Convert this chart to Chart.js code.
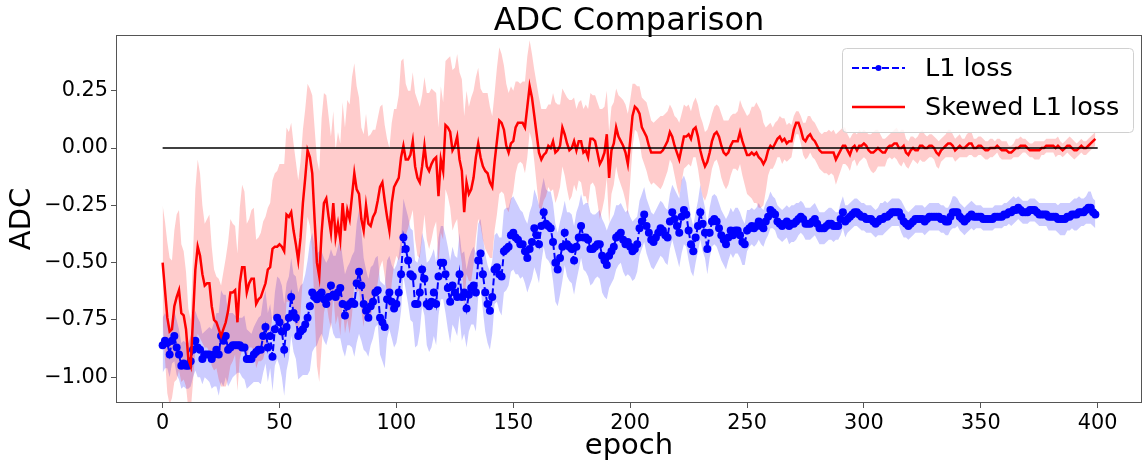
<!DOCTYPE html>
<html>
<head>
<meta charset="utf-8">
<title>ADC Comparison</title>
<script src="https://cdn.jsdelivr.net/npm/chart.js@4.4.1/dist/chart.umd.min.js"></script>
<style>
  html, body { margin: 0; padding: 0; background: #fff; }
  canvas { display: block; }
</style>
</head>
<body>
<canvas id="adcChart" width="1143" height="463"></canvas>
<script>
// ── DATA ──
const epochs = Array.from({ length: 400 }, (_, i) => i);
const xTicks = [0, 50, 100, 150, 200, 250, 300, 350, 400];
const yTicks = [-1.00, -0.75, -0.50, -0.25, 0.00, 0.25];

// L1 loss: mean ADC per epoch and its spread
const l1Mean = [
  -0.86,-0.84,-0.85,-0.90,-0.84,-0.82,-0.87,-0.90,-0.95,-0.94,
  -0.95,-0.95,-0.93,-0.88,-0.84,-0.87,-0.88,-0.92,-0.90,-0.90,
  -0.90,-0.92,-0.90,-0.88,-0.90,-0.82,-0.84,-0.82,-0.88,-0.87,
  -0.86,-0.86,-0.86,-0.86,-0.87,-0.87,-0.92,-0.92,-0.92,-0.90,
  -0.89,-0.88,-0.88,-0.82,-0.78,-0.87,-0.82,-0.91,-0.79,-0.74,
  -0.76,-0.80,-0.88,-0.78,-0.74,-0.65,-0.72,-0.74,-0.82,-0.80,
  -0.79,-0.77,-0.74,-0.69,-0.63,-0.65,-0.66,-0.64,-0.63,-0.66,
  -0.68,-0.65,-0.60,-0.64,-0.65,-0.63,-0.61,-0.68,-0.73,-0.69,
  -0.68,-0.67,-0.68,-0.59,-0.54,-0.60,-0.68,-0.71,-0.74,-0.69,
  -0.67,-0.63,-0.62,-0.74,-0.76,-0.78,-0.66,-0.63,-0.67,-0.70,
  -0.68,-0.63,-0.55,-0.39,-0.44,-0.49,-0.55,-0.56,-0.68,-0.68,
  -0.63,-0.53,-0.57,-0.68,-0.69,-0.67,-0.63,-0.68,-0.56,-0.50,
  -0.50,-0.55,-0.61,-0.67,-0.60,-0.63,-0.65,-0.55,-0.65,-0.63,
  -0.70,-0.64,-0.61,-0.60,-0.63,-0.49,-0.46,-0.55,-0.63,-0.68,
  -0.71,-0.65,-0.53,-0.52,-0.55,-0.56,-0.45,-0.44,-0.43,-0.38,
  -0.37,-0.39,-0.40,-0.42,-0.42,-0.45,-0.48,-0.44,-0.41,-0.35,
  -0.38,-0.42,-0.34,-0.28,-0.33,-0.34,-0.35,-0.41,-0.50,-0.53,
  -0.48,-0.43,-0.37,-0.42,-0.43,-0.44,-0.49,-0.43,-0.39,-0.34,
  -0.39,-0.39,-0.40,-0.44,-0.44,-0.43,-0.42,-0.42,-0.47,-0.49,
  -0.51,-0.47,-0.45,-0.43,-0.39,-0.38,-0.37,-0.40,-0.42,-0.41,
  -0.43,-0.45,-0.44,-0.42,-0.35,-0.32,-0.29,-0.34,-0.37,-0.40,
  -0.41,-0.39,-0.37,-0.35,-0.36,-0.38,-0.39,-0.32,-0.28,-0.31,
  -0.34,-0.37,-0.30,-0.27,-0.29,-0.36,-0.42,-0.45,-0.39,-0.34,
  -0.28,-0.33,-0.37,-0.44,-0.37,-0.32,-0.31,-0.32,-0.35,-0.38,
  -0.40,-0.42,-0.39,-0.36,-0.38,-0.36,-0.36,-0.38,-0.41,-0.42,
  -0.36,-0.35,-0.34,-0.35,-0.34,-0.32,-0.34,-0.35,-0.32,-0.30,
  -0.27,-0.28,-0.29,-0.32,-0.33,-0.34,-0.33,-0.32,-0.34,-0.33,
  -0.33,-0.32,-0.31,-0.30,-0.31,-0.33,-0.33,-0.33,-0.32,-0.31,
  -0.33,-0.35,-0.35,-0.35,-0.34,-0.33,-0.33,-0.34,-0.34,-0.34,
  -0.31,-0.28,-0.32,-0.31,-0.30,-0.29,-0.28,-0.28,-0.29,-0.30,
  -0.30,-0.31,-0.31,-0.31,-0.32,-0.33,-0.32,-0.31,-0.31,-0.30,
  -0.30,-0.29,-0.28,-0.28,-0.28,-0.28,-0.30,-0.32,-0.33,-0.34,
  -0.33,-0.32,-0.31,-0.31,-0.31,-0.31,-0.32,-0.31,-0.30,-0.30,
  -0.30,-0.30,-0.30,-0.31,-0.31,-0.32,-0.32,-0.30,-0.28,-0.28,
  -0.28,-0.30,-0.31,-0.32,-0.31,-0.30,-0.29,-0.30,-0.30,-0.30,
  -0.30,-0.31,-0.31,-0.31,-0.31,-0.31,-0.30,-0.30,-0.30,-0.30,
  -0.29,-0.29,-0.28,-0.28,-0.27,-0.27,-0.26,-0.27,-0.28,-0.28,
  -0.28,-0.27,-0.27,-0.27,-0.28,-0.29,-0.29,-0.29,-0.29,-0.30,
  -0.30,-0.30,-0.30,-0.31,-0.31,-0.31,-0.31,-0.30,-0.30,-0.29,
  -0.29,-0.29,-0.28,-0.28,-0.28,-0.27,-0.26,-0.26,-0.28,-0.29
];
const l1Std = [
  0.12,0.12,0.11,0.10,0.10,0.11,0.12,0.11,0.10,0.10,
  0.10,0.10,0.11,0.12,0.13,0.13,0.12,0.11,0.10,0.11,
  0.12,0.13,0.14,0.16,0.18,0.20,0.20,0.18,0.16,0.15,
  0.14,0.13,0.12,0.12,0.13,0.14,0.13,0.12,0.11,0.12,
  0.13,0.14,0.15,0.16,0.16,0.15,0.14,0.15,0.16,0.18,
  0.19,0.20,0.20,0.19,0.18,0.17,0.17,0.18,0.19,0.20,
  0.20,0.22,0.25,0.28,0.26,0.22,0.20,0.19,0.18,0.18,
  0.18,0.17,0.16,0.17,0.18,0.20,0.22,0.20,0.18,0.17,
  0.18,0.20,0.23,0.26,0.27,0.24,0.20,0.18,0.17,0.17,
  0.16,0.15,0.15,0.16,0.17,0.18,0.17,0.16,0.16,0.17,
  0.17,0.16,0.16,0.17,0.18,0.19,0.20,0.20,0.19,0.18,
  0.17,0.16,0.16,0.18,0.20,0.20,0.19,0.18,0.17,0.16,
  0.16,0.17,0.18,0.18,0.17,0.16,0.17,0.18,0.19,0.18,
  0.17,0.16,0.16,0.17,0.17,0.16,0.15,0.16,0.17,0.17,
  0.17,0.16,0.15,0.15,0.16,0.17,0.18,0.18,0.17,0.16,
  0.16,0.16,0.15,0.15,0.14,0.14,0.15,0.16,0.16,0.17,
  0.17,0.17,0.16,0.15,0.15,0.15,0.16,0.17,0.17,0.16,
  0.16,0.15,0.14,0.14,0.15,0.15,0.15,0.15,0.14,0.14,
  0.14,0.15,0.16,0.16,0.15,0.14,0.14,0.15,0.16,0.16,
  0.15,0.14,0.14,0.14,0.14,0.13,0.13,0.14,0.14,0.14,
  0.13,0.13,0.13,0.12,0.12,0.12,0.12,0.12,0.12,0.12,
  0.12,0.12,0.12,0.12,0.12,0.12,0.12,0.12,0.12,0.13,
  0.14,0.15,0.16,0.15,0.14,0.13,0.12,0.11,0.11,0.11,
  0.12,0.12,0.11,0.11,0.11,0.11,0.11,0.11,0.11,0.11,
  0.11,0.11,0.10,0.10,0.10,0.10,0.10,0.10,0.10,0.09,
  0.09,0.08,0.08,0.08,0.08,0.08,0.08,0.08,0.08,0.08,
  0.08,0.07,0.07,0.07,0.07,0.07,0.07,0.07,0.08,0.08,
  0.08,0.08,0.07,0.07,0.07,0.07,0.07,0.07,0.07,0.07,
  0.07,0.07,0.07,0.07,0.07,0.07,0.07,0.07,0.06,0.06,
  0.07,0.07,0.07,0.06,0.06,0.06,0.06,0.06,0.06,0.06,
  0.06,0.06,0.06,0.06,0.06,0.06,0.06,0.07,0.07,0.07,
  0.06,0.06,0.06,0.06,0.06,0.06,0.07,0.07,0.06,0.06,
  0.06,0.06,0.06,0.06,0.06,0.06,0.06,0.06,0.06,0.06,
  0.06,0.06,0.06,0.06,0.06,0.06,0.06,0.06,0.07,0.07,
  0.06,0.06,0.06,0.06,0.06,0.06,0.06,0.06,0.05,0.05,
  0.05,0.05,0.05,0.05,0.05,0.05,0.05,0.05,0.05,0.05,
  0.05,0.05,0.05,0.06,0.06,0.05,0.05,0.05,0.05,0.05,
  0.05,0.05,0.05,0.05,0.05,0.05,0.05,0.05,0.05,0.06,
  0.06,0.06,0.06,0.06,0.07,0.07,0.07,0.06,0.06,0.06,
  0.07,0.07,0.07,0.06,0.06,0.06,0.07,0.07,0.06,0.06
];

// Skewed L1 loss: mean ADC per epoch and its spread
const skewMean = [
  -0.50,-0.62,-0.74,-0.80,-0.79,-0.69,-0.65,-0.62,-0.72,-0.73,
  -0.79,-0.92,-0.95,-0.74,-0.53,-0.43,-0.47,-0.55,-0.60,-0.59,
  -0.59,-0.69,-0.75,-0.76,-0.79,-0.82,-0.79,-0.76,-0.71,-0.63,
  -0.63,-0.62,-0.76,-0.59,-0.52,-0.52,-0.63,-0.59,-0.57,-0.57,
  -0.68,-0.66,-0.65,-0.62,-0.59,-0.53,-0.52,-0.44,-0.43,-0.43,
  -0.42,-0.43,-0.45,-0.29,-0.30,-0.28,-0.36,-0.42,-0.49,-0.39,
  -0.24,-0.13,-0.01,-0.04,-0.11,-0.31,-0.50,-0.56,-0.37,-0.24,
  -0.22,-0.30,-0.37,-0.24,-0.39,-0.33,-0.40,-0.24,-0.36,-0.27,
  -0.31,-0.21,-0.11,-0.18,-0.20,-0.31,-0.36,-0.25,-0.33,-0.34,
  -0.30,-0.28,-0.23,-0.17,-0.15,-0.23,-0.30,-0.36,-0.24,-0.17,
  -0.15,-0.13,-0.04, 0.01,-0.05,-0.05,-0.03, 0.03,-0.08,-0.13,
  -0.15,-0.08, 0.01,-0.08,-0.10,-0.07,-0.05,-0.04,-0.21,-0.05,
  -0.10, 0.10, 0.09, 0.07,-0.01, 0.01, 0.05,-0.05,-0.10,-0.28,
  -0.15,-0.20,-0.18,-0.13,-0.04, 0.02,-0.04,-0.08,-0.10,-0.11,
  -0.15,-0.17,-0.06, 0.03, 0.12, 0.11, 0.08, 0.01,-0.02, 0.02,
   0.03, 0.09, 0.11, 0.11, 0.11, 0.09, 0.18, 0.27, 0.22, 0.14,
   0.06,-0.02,-0.05,-0.03,-0.02, 0.01, 0.00, 0.03,-0.02,-0.01,
   0.01, 0.09, 0.06, 0.02,-0.01, 0.00, 0.03,-0.01, 0.03, 0.03,
  -0.02,-0.01,-0.04, 0.04, 0.04, 0.03,-0.02,-0.07,-0.05,-0.02,
   0.06,-0.13,-0.01, 0.02, 0.09, 0.05, 0.03, 0.01,-0.02,-0.07,
   0.03, 0.14, 0.18, 0.17, 0.15, 0.09, 0.07, 0.05, 0.01,-0.02,
  -0.02,-0.02,-0.02,-0.02,-0.01, 0.01, 0.03, 0.07, 0.05, 0.01,
  -0.02,-0.05, 0.00, 0.05, 0.05, 0.06, 0.04, 0.08, 0.09, 0.05,
  -0.01,-0.05,-0.08,-0.06,-0.02, 0.03, 0.06, 0.07, 0.05, 0.01,
  -0.02,-0.03,-0.02, 0.01, 0.03, 0.03, 0.03, 0.07, 0.03, 0.00,
  -0.03,-0.03,-0.02,-0.03,-0.02,-0.04,-0.05,-0.07,-0.05,-0.01,
   0.01, 0.00, 0.02, 0.04, 0.05, 0.03, 0.04, 0.02, 0.03, 0.03,
   0.08, 0.11, 0.11, 0.08, 0.04, 0.03, 0.05, 0.06, 0.04, 0.03,
   0.01,-0.01,-0.02,-0.02,-0.02,-0.02,-0.02,-0.02,-0.05,-0.03,
  -0.01, 0.01, 0.01,-0.01,-0.03, 0.00, 0.01,-0.01, 0.01, 0.01,
   0.02, 0.01,-0.01,-0.02,-0.02,-0.01, 0.00,-0.01,-0.02,-0.02,
   0.00, 0.01, 0.01, 0.02, 0.02, 0.00, 0.00, 0.01,-0.02,-0.03,
  -0.01, 0.00,-0.01,-0.01, 0.01, 0.01, 0.00, 0.00, 0.01, 0.01,
   0.00,-0.02,-0.03,-0.01, 0.00, 0.01, 0.02, 0.02, 0.01,-0.01,
   0.00, 0.01, 0.00, 0.00, 0.01, 0.02, 0.02, 0.00, 0.00, 0.01,
   0.01, 0.00,-0.01,-0.01, 0.00, 0.00, 0.00, 0.01, 0.00,-0.01,
  -0.01,-0.01,-0.02,-0.02,-0.01, 0.00, 0.00, 0.01, 0.01, 0.01,
   0.00,-0.01,-0.01,-0.01,-0.01,-0.01, 0.00, 0.00, 0.01, 0.01,
   0.01, 0.01, 0.00, 0.01, 0.00,-0.01, 0.00, 0.01, 0.01, 0.00,
  -0.01,-0.01, 0.00, 0.01, 0.00, 0.00, 0.01, 0.02, 0.03, 0.04
];
const skewStd = [
  0.25,0.30,0.33,0.32,0.30,0.33,0.36,0.35,0.30,0.28,
  0.25,0.22,0.20,0.28,0.35,0.38,0.36,0.30,0.27,0.28,
  0.30,0.26,0.22,0.20,0.22,0.22,0.25,0.28,0.30,0.32,
  0.30,0.28,0.30,0.33,0.36,0.33,0.30,0.28,0.30,0.31,
  0.28,0.27,0.28,0.30,0.29,0.27,0.28,0.30,0.32,0.33,
  0.35,0.36,0.38,0.38,0.37,0.39,0.38,0.36,0.35,0.33,
  0.32,0.30,0.29,0.30,0.34,0.40,0.45,0.46,0.50,0.48,
  0.45,0.44,0.42,0.40,0.38,0.40,0.42,0.44,0.45,0.48,
  0.50,0.52,0.48,0.45,0.42,0.40,0.42,0.40,0.38,0.40,
  0.38,0.36,0.36,0.35,0.34,0.33,0.34,0.36,0.35,0.34,
  0.32,0.36,0.42,0.38,0.33,0.30,0.28,0.30,0.32,0.34,
  0.33,0.31,0.30,0.32,0.34,0.33,0.30,0.28,0.30,0.32,
  0.30,0.28,0.30,0.33,0.35,0.34,0.36,0.38,0.40,0.42,
  0.40,0.38,0.40,0.38,0.35,0.33,0.30,0.32,0.34,0.35,
  0.33,0.31,0.30,0.32,0.32,0.30,0.28,0.27,0.26,0.25,
  0.22,0.20,0.18,0.17,0.18,0.20,0.22,0.20,0.19,0.20,
  0.22,0.24,0.22,0.20,0.19,0.18,0.19,0.21,0.22,0.20,
  0.18,0.17,0.18,0.20,0.22,0.21,0.19,0.18,0.17,0.18,
  0.19,0.20,0.21,0.20,0.19,0.20,0.22,0.24,0.22,0.20,
  0.19,0.20,0.19,0.18,0.17,0.18,0.19,0.20,0.21,0.22,
  0.18,0.14,0.10,0.10,0.12,0.13,0.14,0.15,0.15,0.14,
  0.13,0.14,0.15,0.16,0.15,0.14,0.13,0.12,0.12,0.13,
  0.15,0.16,0.15,0.14,0.13,0.13,0.12,0.12,0.13,0.14,
  0.15,0.16,0.15,0.14,0.13,0.12,0.12,0.12,0.13,0.14,
  0.14,0.15,0.14,0.13,0.12,0.12,0.13,0.14,0.15,0.16,
  0.17,0.18,0.20,0.21,0.22,0.22,0.21,0.18,0.14,0.11,
  0.10,0.09,0.09,0.08,0.09,0.10,0.09,0.08,0.08,0.07,
  0.06,0.05,0.05,0.06,0.07,0.08,0.09,0.08,0.08,0.08,
  0.08,0.08,0.08,0.09,0.09,0.10,0.09,0.10,0.11,0.10,
  0.09,0.08,0.08,0.07,0.07,0.06,0.06,0.07,0.07,0.06,
  0.06,0.06,0.07,0.08,0.09,0.09,0.08,0.07,0.06,0.06,
  0.05,0.05,0.06,0.06,0.07,0.07,0.08,0.07,0.06,0.06,
  0.06,0.05,0.05,0.06,0.06,0.07,0.06,0.05,0.05,0.05,
  0.05,0.06,0.06,0.05,0.05,0.05,0.06,0.06,0.05,0.05,
  0.05,0.05,0.04,0.04,0.05,0.05,0.05,0.04,0.04,0.04,
  0.04,0.04,0.04,0.04,0.04,0.04,0.03,0.03,0.04,0.04,
  0.04,0.04,0.03,0.03,0.03,0.04,0.04,0.04,0.03,0.03,
  0.03,0.03,0.03,0.04,0.04,0.04,0.03,0.03,0.03,0.03,
  0.03,0.03,0.04,0.04,0.03,0.03,0.03,0.03,0.04,0.04,
  0.04,0.03,0.03,0.03,0.03,0.03,0.03,0.03,0.03,0.03
];

// reference line at ADC = 0
const zeroLineX = [0, 400];
const zeroLineY = [0, 0];

// ── HELPERS ──
const FONT = "'DejaVu Sans', 'Liberation Sans', sans-serif";
const SPINE = '#555';
const toPoints = (ys) => epochs.map((x, i) => ({ x, y: ys[i] }));
const toBand = (mean, sd, sign) => epochs.map((x, i) => ({ x, y: mean[i] + sign * sd[i] }));
const fmtY = (v) => (v < 0 ? '\u2212' : '') + Math.abs(v).toFixed(2);
const noPad = (s) => { s.paddingLeft = 0; s.paddingRight = 0; s.paddingTop = 0; s.paddingBottom = 0; };

// frame on all four sides like matplotlib spines, title centred over the axes
const framePlugin = {
    id: 'frame',
    afterDatasetsDraw(chart) {
        const { ctx, chartArea: a } = chart;
        ctx.save();
        ctx.strokeStyle = SPINE;
        ctx.lineWidth = 1;
        ctx.strokeRect(a.left + 0.5, a.top + 0.5, a.right - a.left - 1, a.bottom - a.top - 1);
        ctx.fillStyle = '#000';
        ctx.font = '32px ' + FONT;
        ctx.textAlign = 'center';
        ctx.textBaseline = 'alphabetic';
        ctx.fillText('ADC Comparison', (a.left + a.right) / 2, 30);
        ctx.restore();
    }
};

// legend box in the upper right of the plot
const boxLegendPlugin = {
    id: 'boxLegend',
    afterDraw(chart) {
        const { ctx } = chart;
        const l1 = chart.data.datasets[4];
        const sk = chart.data.datasets[5];
        const x = 842, y = 48, w = 291, h = 84, r = 4;
        ctx.save();
        ctx.beginPath();
        ctx.roundRect(x + 0.5, y + 0.5, w, h, r);
        ctx.fillStyle = 'rgba(255,255,255,0.8)';
        ctx.fill();
        ctx.strokeStyle = '#d0d0d0';
        ctx.lineWidth = 1;
        ctx.stroke();

        // L1 loss row
        ctx.strokeStyle = l1.borderColor;
        ctx.lineWidth = 2;
        ctx.setLineDash([7, 3]);
        ctx.beginPath();
        ctx.moveTo(852, 68);
        ctx.lineTo(905, 68);
        ctx.stroke();
        ctx.setLineDash([]);
        ctx.fillStyle = l1.borderColor;
        ctx.beginPath();
        ctx.arc(878.5, 68, 3, 0, Math.PI * 2);
        ctx.fill();

        // Skewed row
        ctx.strokeStyle = sk.borderColor;
        ctx.lineWidth = 2.5;
        ctx.beginPath();
        ctx.moveTo(852, 107);
        ctx.lineTo(905, 107);
        ctx.stroke();

        ctx.fillStyle = '#000';
        ctx.font = '25.5px ' + FONT;
        ctx.textBaseline = 'middle';
        ctx.fillText(l1.label, 925, 69);
        ctx.fillText(sk.label, 925, 108);
        ctx.restore();
    }
};

// ── ADC COMPARISON CHART ──
const ctx = document.getElementById('adcChart');
new Chart(ctx, {
    type: 'line',
    data: {
        datasets: [
            { label: 'l1-low', data: toBand(l1Mean, l1Std, -1), borderWidth: 0, pointRadius: 0, fill: false, order: 10 },
            { label: 'l1-high', data: toBand(l1Mean, l1Std, 1), borderWidth: 0, pointRadius: 0,
              fill: '-1', backgroundColor: 'rgba(0, 0, 255, 0.2)', order: 9 },
            { label: 'skew-low', data: toBand(skewMean, skewStd, -1), borderWidth: 0, pointRadius: 0, fill: false, order: 8 },
            { label: 'skew-high', data: toBand(skewMean, skewStd, 1), borderWidth: 0, pointRadius: 0,
              fill: '-1', backgroundColor: 'rgba(255, 0, 0, 0.2)', order: 7 },
            {
                label: 'L1 loss',
                data: toPoints(l1Mean),
                borderColor: '#0000ff',
                backgroundColor: '#0000ff',
                borderWidth: 2,
                borderDash: [7, 3],
                pointRadius: 4,
                pointBorderWidth: 0,
                pointBackgroundColor: '#0000ff',
                fill: false,
                order: 3
            },
            {
                label: 'Skewed L1 loss',
                data: toPoints(skewMean),
                borderColor: '#ff0000',
                borderWidth: 2.5,
                pointRadius: 0,
                fill: false,
                order: 2
            },
            {
                label: 'zero',
                data: zeroLineX.map((x, i) => ({ x, y: zeroLineY[i] })),
                borderColor: '#000',
                borderWidth: 1.5,
                pointRadius: 0,
                fill: false,
                order: 1
            }
        ]
    },
    options: {
        responsive: false,
        animation: false,
        devicePixelRatio: 1,
        events: [],
        elements: { line: { tension: 0 } },
        layout: { autoPadding: false, padding: { top: 35, right: 1, left: 0, bottom: 0 } },
        plugins: {
            legend: { display: false },
            tooltip: { enabled: false },
            title: { display: false }
        },
        scales: {
            x: {
                type: 'linear',
                min: -19.95,
                max: 418.95,
                afterBuildTicks: (s) => { s.ticks = xTicks.map(v => ({ value: v })); },
                afterFit: (s) => { s.height = 60; noPad(s); },
                ticks: {
                    color: '#000',
                    padding: 3,
                    maxRotation: 0,
                    autoSkip: false,
                    font: { family: FONT, size: 20.8 }
                },
                grid: { drawOnChartArea: false, drawTicks: true, tickLength: 5, color: SPINE },
                border: { display: false },
                title: {
                    display: true,
                    text: 'epoch',
                    color: '#000',
                    font: { family: FONT, size: 29 },
                    padding: { top: 0, bottom: -1 }
                }
            },
            y: {
                type: 'linear',
                min: -1.112,
                max: 0.493,
                afterBuildTicks: (s) => { s.ticks = yTicks.map(v => ({ value: v })); },
                afterFit: (s) => { s.width = 116; noPad(s); },
                ticks: {
                    color: '#000',
                    padding: 3,
                    callback: (v) => fmtY(v),
                    font: { family: FONT, size: 20.8 }
                },
                grid: { drawOnChartArea: false, drawTicks: true, tickLength: 5, color: SPINE },
                border: { display: false },
                title: {
                    display: true,
                    text: 'ADC',
                    color: '#000',
                    font: { family: FONT, size: 29 },
                    padding: { top: 5, bottom: 0 }
                }
            }
        }
    },
    plugins: [framePlugin, boxLegendPlugin]
});
</script>
</body>
</html>
